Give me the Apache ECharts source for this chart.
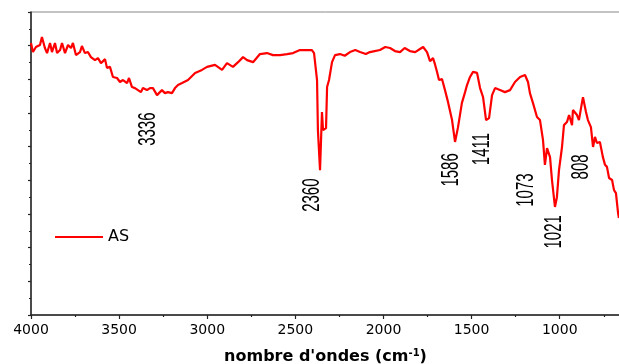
<!DOCTYPE html>
<html>
<head>
<meta charset="utf-8">
<script src="https://cdn.jsdelivr.net/npm/echarts@6/dist/echarts.min.js"></script>
<style>
  html, body { margin: 0; padding: 0; background: #fff; }
  #chart { width: 619px; height: 364px; }
</style>
</head>
<body>
<div id="chart"></div>
<script>
// wavenumbers (cm-1) and transmittance
const wavenumbers = [4000, 3989, 3972, 3949, 3938, 3921, 3909, 3892, 3881, 3864, 3852, 3835, 3824, 3807, 3790, 3773, 3762, 3745, 3722, 3711, 3694, 3677, 3660, 3637, 3620, 3603, 3580, 3569, 3552, 3535, 3512, 3495, 3478, 3455, 3444, 3427, 3410, 3399, 3376, 3365, 3342, 3325, 3308, 3285, 3274, 3257, 3240, 3223, 3200, 3183, 3166, 3143, 3109, 3069, 3030, 3001, 2956, 2916, 2888, 2854, 2825, 2797, 2774, 2740, 2701, 2661, 2627, 2587, 2547, 2513, 2474, 2434, 2406, 2394, 2377, 2372, 2360, 2349, 2343, 2326, 2320, 2309, 2292, 2275, 2247, 2220, 2190, 2160, 2133, 2100, 2077, 2050, 2020, 1990, 1963, 1935, 1906, 1880, 1850, 1820, 1793, 1775, 1753, 1736, 1719, 1708, 1696, 1685, 1668, 1651, 1634, 1611, 1594, 1577, 1555, 1537, 1526, 1509, 1492, 1469, 1452, 1435, 1418, 1401, 1384, 1367, 1339, 1311, 1282, 1254, 1225, 1197, 1180, 1169, 1152, 1129, 1112, 1095, 1084, 1072, 1055, 1044, 1027, 1016, 1004, 987, 976, 959, 947, 930, 925, 902, 891, 874, 868, 851, 840, 823, 811, 800, 789, 772, 755, 743, 732, 720, 703, 692, 681, 669, 664];
const transmittance = [80.8, 78.1, 79.6, 80.2, 82.6, 79.3, 77.8, 80.8, 78.1, 80.8, 77.8, 78.7, 80.8, 77.8, 80.2, 79.3, 80.8, 77.2, 78.1, 79.9, 77.8, 78.1, 76.6, 75.7, 76.3, 74.8, 76.0, 73.4, 73.7, 70.7, 70.4, 69.2, 69.8, 68.9, 70.4, 67.7, 67.4, 67.7, 66.2, 67.4, 66.8, 67.4, 67.4, 65.3, 65.9, 66.8, 65.9, 66.2, 65.9, 67.4, 68.3, 68.9, 69.8, 71.9, 72.8, 73.7, 74.3, 72.8, 74.8, 73.7, 75.1, 76.6, 75.7, 75.1, 77.5, 77.8, 77.2, 77.2, 77.5, 77.8, 78.7, 78.7, 78.7, 77.8, 69.8, 54.9, 43.0, 60.3, 54.9, 55.5, 67.7, 69.8, 75.1, 77.2, 77.5, 77.0, 78.1, 78.7, 78.1, 77.5, 78.1, 78.4, 78.7, 79.6, 79.3, 78.4, 78.1, 79.3, 78.4, 78.1, 79.0, 79.6, 78.1, 75.4, 76.3, 74.5, 72.2, 69.8, 70.1, 66.8, 63.3, 57.9, 51.4, 55.8, 63.0, 66.2, 68.3, 70.7, 72.2, 71.9, 67.4, 64.7, 57.9, 58.5, 65.3, 67.4, 66.8, 66.2, 66.8, 69.2, 70.7, 71.3, 69.2, 65.9, 63.0, 58.8, 57.9, 52.0, 44.6, 49.6, 46.9, 40.1, 32.1, 35.0, 43.1, 49.9, 56.4, 57.3, 59.4, 56.4, 60.9, 59.4, 57.9, 63.0, 64.7, 60.3, 57.9, 55.8, 49.9, 52.9, 51.1, 51.4, 46.9, 44.6, 44.0, 40.7, 40.1, 37.1, 36.2, 30.3, 28.8];

// peak annotations: text, and where the text is centred
const peakLabels = ['3336', '2360', '1586', '1411', '1073', '1021', '808'];
const peakLabelX = [3336, 2406, 1617, 1441, 1191, 1033, 879];
const peakLabelY = [55.2, 35.6, 43.1, 49.3, 37.1, 24.7, 44.0];

const xMajorTicks = [4000, 3500, 3000, 2500, 2000, 1500, 1000];
const xMinorTicks = [3750, 3250, 2750, 2250, 1750, 1250, 750];

const myChart = echarts.init(document.getElementById('chart'));

const option = {
  animation: false,
  grid: {
    left: 31,
    right: -1,
    top: 12,
    bottom: 49,
    outerBoundsMode: 'none',
    containLabel: false,
    show: true,
    borderColor: '#888',
    borderWidth: 1,
  },
  legend: {
    left: 50,
    top: 224,
    itemWidth: 48,
    itemHeight: 2,
    data: [{ name: 'AS', icon: 'rect' }],
    textStyle: { fontFamily: 'DejaVu Sans', fontSize: 16, color: '#000' },
  },
  xAxis: [
    {
      type: 'value',
      inverse: true,
      min: 658,
      max: 4000,
      name: "nombre d'ondes (cm{sup|-1})",
      nameLocation: 'middle',
      nameGap: 33,
      nameTextStyle: {
        fontFamily: 'DejaVu Sans',
        fontWeight: 'bold',
        fontSize: 16,
        color: '#000',
        rich: {
          sup: { fontFamily: 'DejaVu Sans', fontWeight: 'bold', fontSize: 10, verticalAlign: 'top', padding: [0, 0, 8, 0] },
        },
      },
      axisLine: { lineStyle: { color: '#222', width: 1.5 } },
      axisTick: { length: 4, customValues: xMajorTicks, lineStyle: { color: '#222', width: 1.2 } },
      axisLabel: {
        customValues: xMajorTicks,
        margin: 8,
        fontFamily: 'DejaVu Sans',
        fontSize: 14,
        color: '#000',
        formatter: (v) => String(v),
      },
      splitLine: { show: false },
    },
    {
      type: 'value',
      inverse: true,
      min: 658,
      max: 4000,
      position: 'bottom',
      axisLine: { show: false },
      axisTick: { length: 2, customValues: xMinorTicks, lineStyle: { color: '#222', width: 1.2 } },
      axisLabel: { show: false },
      splitLine: { show: false },
    },
  ],
  yAxis: {
    type: 'value',
    min: 0,
    max: 90,
    interval: 10,
    axisLine: { show: true, lineStyle: { color: '#222', width: 1.5 } },
    axisTick: { show: true, length: 3, lineStyle: { color: '#222', width: 1.2 } },
    minorTick: { show: true, splitNumber: 2, length: 2, lineStyle: { color: '#222', width: 1.2 } },
    axisLabel: { show: false },
    splitLine: { show: false },
  },
  series: [
    {
      name: 'AS',
      type: 'line',
      data: wavenumbers.map((w, i) => [w, transmittance[i]]),
      showSymbol: false,
      symbol: 'none',
      color: '#ff0000',
      lineStyle: { color: '#ff0000', width: 2.2 },
    },
    {
      name: 'peaks',
      type: 'custom',
      silent: true,
      data: peakLabelX.map((w, i) => [w, peakLabelY[i]]),
      renderItem: (params, api) => {
        const p = api.coord([api.value(0), api.value(1)]);
        return {
          type: 'text',
          x: p[0],
          y: p[1],
          rotation: Math.PI / 2,
          scaleY: 1.6,
          style: {
            text: peakLabels[params.dataIndex],
            fontFamily: 'Liberation Sans',
            fontSize: 15,
            fill: '#000',
            align: 'center',
            verticalAlign: 'middle',
          },
        };
      },
    },
  ],
};
option && myChart.setOption(option);
</script>
</body>
</html>
